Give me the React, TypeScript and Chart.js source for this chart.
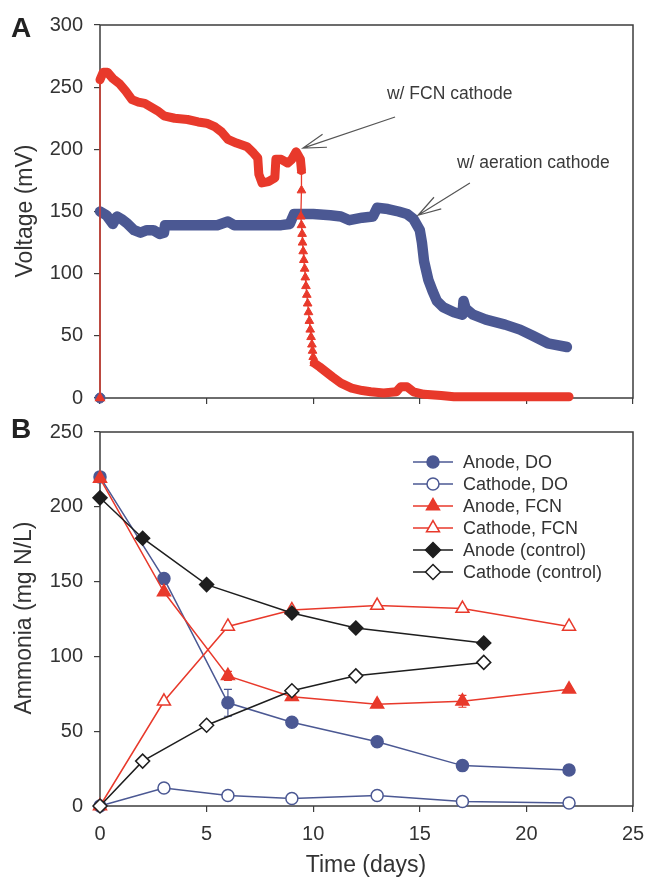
import React, { useEffect, useRef } from "react";
import { Chart, registerables } from "chart.js";
Chart.register(...registerables);

const FONT = "'Liberation Sans', Arial, Helvetica, sans-serif";
const BLUE = "#4b5893";
const RED = "#e8392b";
const BLACK = "#1e1e1e";
const AXIS = "#3c3c3c";
const TEXT = "#333333";

// ---------- Panel A: voltage (mV) vs time (days) ----------
const aerationDays = [0, 0.3, 0.6, 0.8, 1.0, 1.3, 1.6, 1.9, 2.2, 2.5, 2.8, 3.0, 3.05, 3.5, 4.5, 5.5, 6.0, 6.3, 7.5, 8.5, 8.9, 9.1, 10.0, 10.8, 11.3, 11.7, 12.3, 12.8, 13.0, 13.5, 14.0, 14.4, 14.7, 15.0, 15.1, 15.2, 15.4, 15.6, 15.8, 16.1, 16.6, 17.0, 17.05, 17.15, 17.5, 18.1, 19.0, 19.7, 20.3, 21.0, 21.9];
const aerationMV = [150, 147, 140, 146, 144, 140, 135, 133, 135, 135, 132, 133, 139, 139, 139, 139, 142, 139, 139, 139, 140, 148, 148, 147, 146, 143, 145, 146, 153, 152, 150, 148, 144, 135, 125, 110, 95, 86, 78, 73, 69, 67, 78, 72, 67, 63, 59, 55, 50, 44, 41];
const aerationOriginDays = [0];
const aerationOriginMV = [0];

const fcnStartDays = [0, 0];
const fcnStartMV = [0, 256];
const fcnDays1 = [0, 0.15, 0.35, 0.6, 0.9, 1.2, 1.5, 1.8, 2.1, 2.4, 2.7, 3.0, 3.5, 4.1, 4.6, 5.0, 5.4, 5.7, 6.0, 6.4, 6.9, 7.2, 7.4, 7.45, 7.6, 7.9, 8.2, 8.25, 8.5, 8.8, 9.0, 9.2, 9.4, 9.45];
const fcnMV1 = [256, 262, 262, 257, 253, 247, 240, 238, 237, 234, 231, 227, 225, 224, 222, 221, 218, 214, 208, 205, 202, 197, 193, 180, 173, 174, 177, 192, 192, 189, 192, 198, 192, 183];
const fcnDropDays = [9.45, 9.45, 9.42, 9.45, 9.48, 9.5, 9.53, 9.56, 9.6, 9.63, 9.66, 9.7, 9.74, 9.78, 9.82, 9.86, 9.9, 9.94, 9.97, 10.0, 10.05];
const fcnDropMV = [183, 167, 146, 139, 132, 125, 118, 111, 104, 97, 90, 83, 76, 69, 62, 55, 49, 43, 38, 33, 28];
const fcnDays2 = [10.05, 10.3, 10.6, 10.9, 11.3, 11.8, 12.3, 12.7, 13.3, 13.9, 14.1, 14.4, 14.7, 15.2, 16.0, 16.6, 18.0, 20.0, 22.0];
const fcnMV2 = [28, 25, 21, 17, 12, 8, 6, 5, 4, 5, 9, 9, 5, 3, 2, 1, 1, 1, 1];

const voltTicks = [0, 50, 100, 150, 200, 250, 300];
const dayTicks = [0, 5, 10, 15, 20, 25];

const annotationTexts = ["w/ FCN cathode", "w/ aeration cathode"];
const annotationTextDay = [13.46, 16.74];
const annotationTextMV = [244, 189];
const arrowTailDay = [13.84, 17.35];
const arrowTailMV = [226, 173];
const arrowTipDay = [9.52, 14.92];
const arrowTipMV = [201, 147];

// ---------- Panel B: ammonia (mg N/L) vs time (days) ----------
const daysDO = [0, 3, 6, 9, 13, 17, 22];
const anodeDO = [220, 152, 69, 56, 43, 27, 24];
const anodeDOErr = [0, 0, 9, 0, 0, 0, 0];
const cathodeDO = [0, 12, 7, 5, 7, 3, 2];
const daysFCN = [0, 3, 6, 9, 13, 17, 22];
const anodeFCN = [219, 143, 87, 73, 68, 70, 78];
const anodeFCNErr = [0, 0, 3, 0, 0, 4, 0];
const cathodeFCN = [0, 70, 120, 131, 134, 132, 120];
const daysCtrl = [0, 2, 5, 9, 12, 18];
const anodeCtrl = [206, 179, 148, 129, 119, 109];
const cathodeCtrl = [0, 30, 54, 77, 87, 96];
const ammoniaTicks = [0, 50, 100, 150, 200, 250];

const legendLabels = ["Anode, DO", "Cathode, DO", "Anode, FCN", "Cathode, FCN", "Anode (control)", "Cathode (control)"];
const legendColors = [BLUE, BLUE, RED, RED, BLACK, BLACK];
const legendShapes = ["circle", "circle", "triangle", "triangle", "diamond", "diamond"];
const legendFilled = [true, false, true, false, true, false];

const pts = (xs: number[], ys: number[]) => xs.map((x, i) => ({ x, y: ys[i] }));

const tickFont = { family: FONT, size: 20 };

function framePlugin(id: string) {
  return {
    id,
    beforeDatasetsDraw(chart: any) {
      const { ctx, chartArea } = chart;
      ctx.save();
      ctx.strokeStyle = AXIS;
      ctx.lineWidth = 1.5;
      ctx.strokeRect(chartArea.left, chartArea.top, chartArea.right - chartArea.left, chartArea.bottom - chartArea.top);
      ctx.restore();
    },
  };
}

function drawArrow(ctx: CanvasRenderingContext2D, x1: number, y1: number, x2: number, y2: number) {
  const ang = Math.atan2(y1 - y2, x1 - x2);
  const len = 24;
  ctx.beginPath();
  ctx.moveTo(x1, y1);
  ctx.lineTo(x2, y2);
  ctx.moveTo(x2 + Math.cos(ang - 0.29) * len, y2 + Math.sin(ang - 0.29) * len);
  ctx.lineTo(x2, y2);
  ctx.lineTo(x2 + Math.cos(ang + 0.29) * len, y2 + Math.sin(ang + 0.29) * len);
  ctx.stroke();
}

function drawMarker(ctx: CanvasRenderingContext2D, shape: string, x: number, y: number, r: number) {
  ctx.beginPath();
  if (shape === "circle") {
    ctx.arc(x, y, r, 0, Math.PI * 2);
  } else if (shape === "triangle") {
    for (let k = 0; k < 3; k++) {
      const a = (k * 2 * Math.PI) / 3;
      const px = x + Math.sin(a) * r;
      const py = y - Math.cos(a) * r;
      if (k === 0) ctx.moveTo(px, py);
      else ctx.lineTo(px, py);
    }
  } else {
    ctx.moveTo(x, y - r);
    ctx.lineTo(x + r, y);
    ctx.lineTo(x, y + r);
    ctx.lineTo(x - r, y);
  }
  ctx.closePath();
}

const annotationPluginA = {
  id: "annA",
  afterDraw(chart: any) {
    const { ctx, scales } = chart;
    const xs = scales.x;
    const ys = scales.y;
    ctx.save();
    ctx.fillStyle = "#3a3a3a";
    ctx.font = `17.5px ${FONT}`;
    ctx.textBaseline = "middle";
    ctx.textAlign = "left";
    annotationTexts.forEach((t, i) => {
      ctx.fillText(t, xs.getPixelForValue(annotationTextDay[i]), ys.getPixelForValue(annotationTextMV[i]));
    });
    ctx.strokeStyle = "#555";
    ctx.lineWidth = 1.2;
    arrowTipDay.forEach((_, i) => {
      drawArrow(
        ctx,
        xs.getPixelForValue(arrowTailDay[i]),
        ys.getPixelForValue(arrowTailMV[i]),
        xs.getPixelForValue(arrowTipDay[i]),
        ys.getPixelForValue(arrowTipMV[i])
      );
    });
    ctx.fillStyle = "#222";
    ctx.font = `bold 28px ${FONT}`;
    ctx.textAlign = "center";
    ctx.fillText("A", 21, 29);
    ctx.fillStyle = TEXT;
    ctx.translate(26, 211);
    ctx.rotate(-Math.PI / 2);
    ctx.font = `23px ${FONT}`;
    ctx.fillText("Voltage (mV)", 0, 0);
    ctx.restore();
  },
};

const errorBarPlugin = {
  id: "errB",
  beforeDatasetsDraw(chart: any) {
    const { ctx, scales } = chart;
    chart.data.datasets.forEach((ds: any) => {
      if (!ds.errorBars) return;
      ctx.save();
      ctx.strokeStyle = ds.borderColor;
      ctx.lineWidth = 1.2;
      ds.data.forEach((p: any, i: number) => {
        const e = ds.errorBars[i];
        if (!e) return;
        const x = scales.x.getPixelForValue(p.x);
        const yt = scales.y.getPixelForValue(p.y + e);
        const yb = scales.y.getPixelForValue(p.y - e);
        ctx.beginPath();
        ctx.moveTo(x, yt);
        ctx.lineTo(x, yb);
        ctx.moveTo(x - 4, yt);
        ctx.lineTo(x + 4, yt);
        ctx.moveTo(x - 4, yb);
        ctx.lineTo(x + 4, yb);
        ctx.stroke();
      });
      ctx.restore();
    });
  },
};

const annotationPluginB = {
  id: "annB",
  afterDraw(chart: any) {
    const { ctx } = chart;
    ctx.save();
    // legend
    ctx.font = `18px ${FONT}`;
    ctx.textBaseline = "middle";
    ctx.textAlign = "left";
    legendLabels.forEach((label, i) => {
      const y = 52 + i * 22;
      ctx.strokeStyle = legendColors[i];
      ctx.lineWidth = 1.5;
      ctx.beginPath();
      ctx.moveTo(413, y);
      ctx.lineTo(453, y);
      ctx.stroke();
      const r = legendShapes[i] === "circle" ? 6 : 7.5;
      drawMarker(ctx, legendShapes[i], 433, y, r);
      ctx.fillStyle = legendFilled[i] ? legendColors[i] : "#ffffff";
      ctx.fill();
      ctx.stroke();
      ctx.fillStyle = TEXT;
      ctx.fillText(label, 463, y + 1);
    });
    ctx.fillStyle = "#222";
    ctx.font = `bold 28px ${FONT}`;
    ctx.textAlign = "center";
    ctx.fillText("B", 21, 20);
    ctx.fillStyle = TEXT;
    ctx.font = `23px ${FONT}`;
    ctx.fillText("Time (days)", 366, 456);
    ctx.translate(25, 208);
    ctx.rotate(-Math.PI / 2);
    ctx.fillText("Ammonia (mg N/L)", 0, 0);
    ctx.restore();
  },
};

function xScale(showLabels: boolean, height: number) {
  return {
    type: "linear",
    min: 0,
    max: 25,
    afterBuildTicks: (s: any) => {
      s.ticks = dayTicks.map((v) => ({ value: v }));
    },
    ticks: { display: showLabels, font: tickFont, color: TEXT, padding: 10, maxRotation: 0 },
    grid: { display: true, drawOnChartArea: false, drawTicks: true, tickLength: 6, color: AXIS, lineWidth: 1.2 },
    border: { display: false },
    afterFit: (s: any) => {
      s.height = height;
      s.paddingLeft = 0;
      s.paddingRight = 0;
    },
  };
}

function yScale(max: number, tickVals: number[]) {
  return {
    type: "linear",
    min: 0,
    max,
    afterBuildTicks: (s: any) => {
      s.ticks = tickVals.map((v) => ({ value: v }));
    },
    ticks: { font: tickFont, color: TEXT, padding: 11 },
    grid: { display: true, drawOnChartArea: false, drawTicks: true, tickLength: 6, color: AXIS, lineWidth: 1.2 },
    border: { display: false },
    afterFit: (s: any) => {
      s.width = 100;
      s.paddingTop = 0;
      s.paddingBottom = 0;
    },
  };
}

export default function App() {
  const refA = useRef<HTMLCanvasElement>(null);
  const refB = useRef<HTMLCanvasElement>(null);

  useEffect(() => {
    const band = (data: any, color: string, width: number) => ({
      data,
      borderColor: color,
      backgroundColor: color,
      borderWidth: width,
      borderCapStyle: "round",
      borderJoinStyle: "round",
      pointRadius: 0,
      tension: 0,
      clip: false,
    });
    const chartA = new Chart(refA.current as HTMLCanvasElement, {
      type: "line",
      data: {
        datasets: [
          {
            data: pts(fcnDropDays, fcnDropMV),
            borderColor: RED,
            backgroundColor: RED,
            borderWidth: 1.3,
            pointStyle: "triangle",
            pointRadius: 5,
            pointBorderWidth: 1,
            pointBackgroundColor: RED,
            pointBorderColor: RED,
            tension: 0,
            clip: false,
          },
          {
            data: pts(fcnStartDays, fcnStartMV),
            borderColor: RED,
            backgroundColor: RED,
            borderWidth: 1.3,
            pointStyle: "triangle",
            pointRadius: [5, 0],
            pointBackgroundColor: RED,
            pointBorderColor: RED,
            tension: 0,
            clip: false,
          },
          band(pts(fcnDays1, fcnMV1), RED, 9),
          band(pts(fcnDays2, fcnMV2), RED, 9),
          {
            data: pts(aerationOriginDays, aerationOriginMV),
            borderColor: BLUE,
            backgroundColor: BLUE,
            pointStyle: "circle",
            pointRadius: 5,
            pointBackgroundColor: BLUE,
            pointBorderColor: BLUE,
            showLine: false,
            clip: false,
          },
          band(pts(aerationDays, aerationMV), BLUE, 10.5),
        ],
      } as any,
      options: {
        responsive: false,
        animation: false,
        events: [],
        layout: { padding: { left: 0, top: 25, right: 14, bottom: 0 } },
        plugins: { legend: { display: false }, tooltip: { enabled: false } },
        scales: { x: xScale(false, 22), y: yScale(300, voltTicks) } as any,
      },
      plugins: [framePlugin("frameA"), annotationPluginA],
    });

    const series = (
      xs: number[],
      ys: number[],
      color: string,
      style: string,
      filled: boolean,
      radius: number,
      err?: number[]
    ) => ({
      data: pts(xs, ys),
      borderColor: color,
      backgroundColor: color,
      borderWidth: 1.5,
      pointStyle: style,
      pointRadius: radius,
      pointBorderWidth: 1.5,
      pointBackgroundColor: filled ? color : "#ffffff",
      pointBorderColor: color,
      tension: 0,
      clip: false,
      errorBars: err,
    });

    const chartB = new Chart(refB.current as HTMLCanvasElement, {
      type: "line",
      data: {
        datasets: [
          series(daysCtrl, cathodeCtrl, BLACK, "rectRot", false, 7),
          series(daysCtrl, anodeCtrl, BLACK, "rectRot", true, 7),
          series(daysFCN, cathodeFCN, RED, "triangle", false, 7.5),
          series(daysFCN, anodeFCN, RED, "triangle", true, 7.5, anodeFCNErr),
          series(daysDO, cathodeDO, BLUE, "circle", false, 6),
          series(daysDO, anodeDO, BLUE, "circle", true, 6, anodeDOErr),
        ],
      } as any,
      options: {
        responsive: false,
        animation: false,
        events: [],
        layout: { padding: { left: 0, top: 22, right: 14, bottom: 0 } },
        plugins: { legend: { display: false }, tooltip: { enabled: false } },
        scales: { x: xScale(true, 76), y: yScale(250, ammoniaTicks) } as any,
      },
      plugins: [framePlugin("frameB"), errorBarPlugin, annotationPluginB],
    });

    return () => {
      chartA.destroy();
      chartB.destroy();
    };
  }, []);

  return (
    <div style={{ position: "absolute", left: 0, top: 0, width: 647, height: 882, background: "#fff" }}>
      <canvas ref={refA} width={647} height={420} style={{ position: "absolute", left: 0, top: 0, width: 647, height: 420 }} />
      <canvas ref={refB} width={647} height={472} style={{ position: "absolute", left: 0, top: 410, width: 647, height: 472 }} />
    </div>
  );
}
